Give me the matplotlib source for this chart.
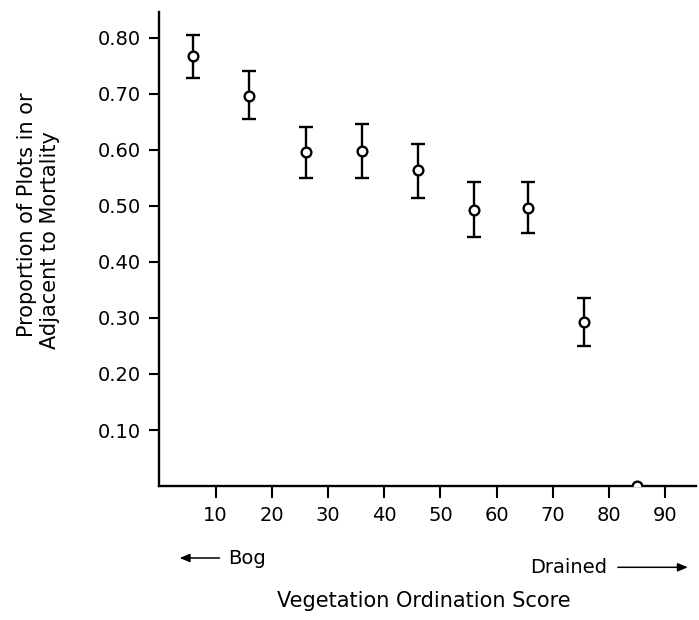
import matplotlib
matplotlib.use("Agg")
import matplotlib.pyplot as plt

# data
scores = [6, 16, 26, 36, 46, 56, 65.5, 75.5, 85]
proportion = [0.768, 0.696, 0.596, 0.597, 0.564, 0.493, 0.496, 0.293, 0.0]
upper = [0.805, 0.741, 0.641, 0.646, 0.611, 0.543, 0.543, 0.336, 0.0]
lower = [0.727, 0.655, 0.550, 0.550, 0.514, 0.445, 0.452, 0.250, 0.0]
xticks = [10, 20, 30, 40, 50, 60, 70, 80, 90]
yticks = [0.10, 0.20, 0.30, 0.40, 0.50, 0.60, 0.70, 0.80]
ytick_labels = ["0.10", "0.20", "0.30", "0.40", "0.50", "0.60", "0.70", "0.80"]

plt.rcParams['font.family'] = ['DejaVu Sans']

fig = plt.figure(figsize=(6.99, 6.20), dpi=100)
ax = fig.add_axes([0.228, 0.216, 0.768, 0.765])

err_lo = [p - l for p, l in zip(proportion, lower)]
err_hi = [u - p for p, u in zip(proportion, upper)]
has_err = [e > 0 for e in err_hi]
xe = [x for x, h in zip(scores, has_err) if h]
ye = [y for y, h in zip(proportion, has_err) if h]
lo = [e for e, h in zip(err_lo, has_err) if h]
hi = [e for e, h in zip(err_hi, has_err) if h]
ax.errorbar(xe, ye, yerr=[lo, hi], fmt='none', ecolor='black',
            elinewidth=1.7, capsize=5, capthick=1.7)
ax.plot(scores, proportion, 'o', color='black', mfc='white', mec='black',
        ms=7, mew=1.7, clip_on=True, zorder=3)

ax.set_xlim(0, 95.5)
ax.set_ylim(0, 0.846)
ax.spines['top'].set_visible(False)
ax.spines['right'].set_visible(False)
ax.spines['left'].set_linewidth(1.7)
ax.spines['bottom'].set_linewidth(1.7)

ax.set_xticks(xticks)
ax.set_xticklabels([str(t) for t in xticks])
ax.set_yticks(yticks)
ax.set_yticklabels(ytick_labels)
ax.tick_params(axis='x', direction='out', length=8.5, width=1.5, pad=6, labelsize=14)
ax.tick_params(axis='y', direction='out', length=7, width=1.5, pad=6, labelsize=14)

fig.text(0.039, 0.653, "Proportion of Plots in or",
         rotation=90, ha='center', va='center', fontsize=15)
fig.text(0.072, 0.613, "Adjacent to Mortality",
         rotation=90, ha='center', va='center', fontsize=15)

fig.text(0.607, 0.030, "Vegetation Ordination Score", ha='center', va='center',
         fontsize=15)

# Bog / Drained annotations with arrows
fig.text(0.327, 0.100, "Bog", ha='left', va='center', fontsize=14)
fig.add_artist(matplotlib.patches.FancyArrowPatch(
    (0.318, 0.100), (0.253, 0.100), transform=fig.transFigure,
    arrowstyle='-|>,head_length=6,head_width=2.5', color='black', lw=1.1,
    mutation_scale=1))
fig.text(0.868, 0.085, "Drained", ha='right', va='center', fontsize=14)
fig.add_artist(matplotlib.patches.FancyArrowPatch(
    (0.880, 0.085), (0.988, 0.085), transform=fig.transFigure,
    arrowstyle='-|>,head_length=6,head_width=2.5', color='black', lw=1.1,
    mutation_scale=1))

fig.savefig("out.png", dpi=100)
